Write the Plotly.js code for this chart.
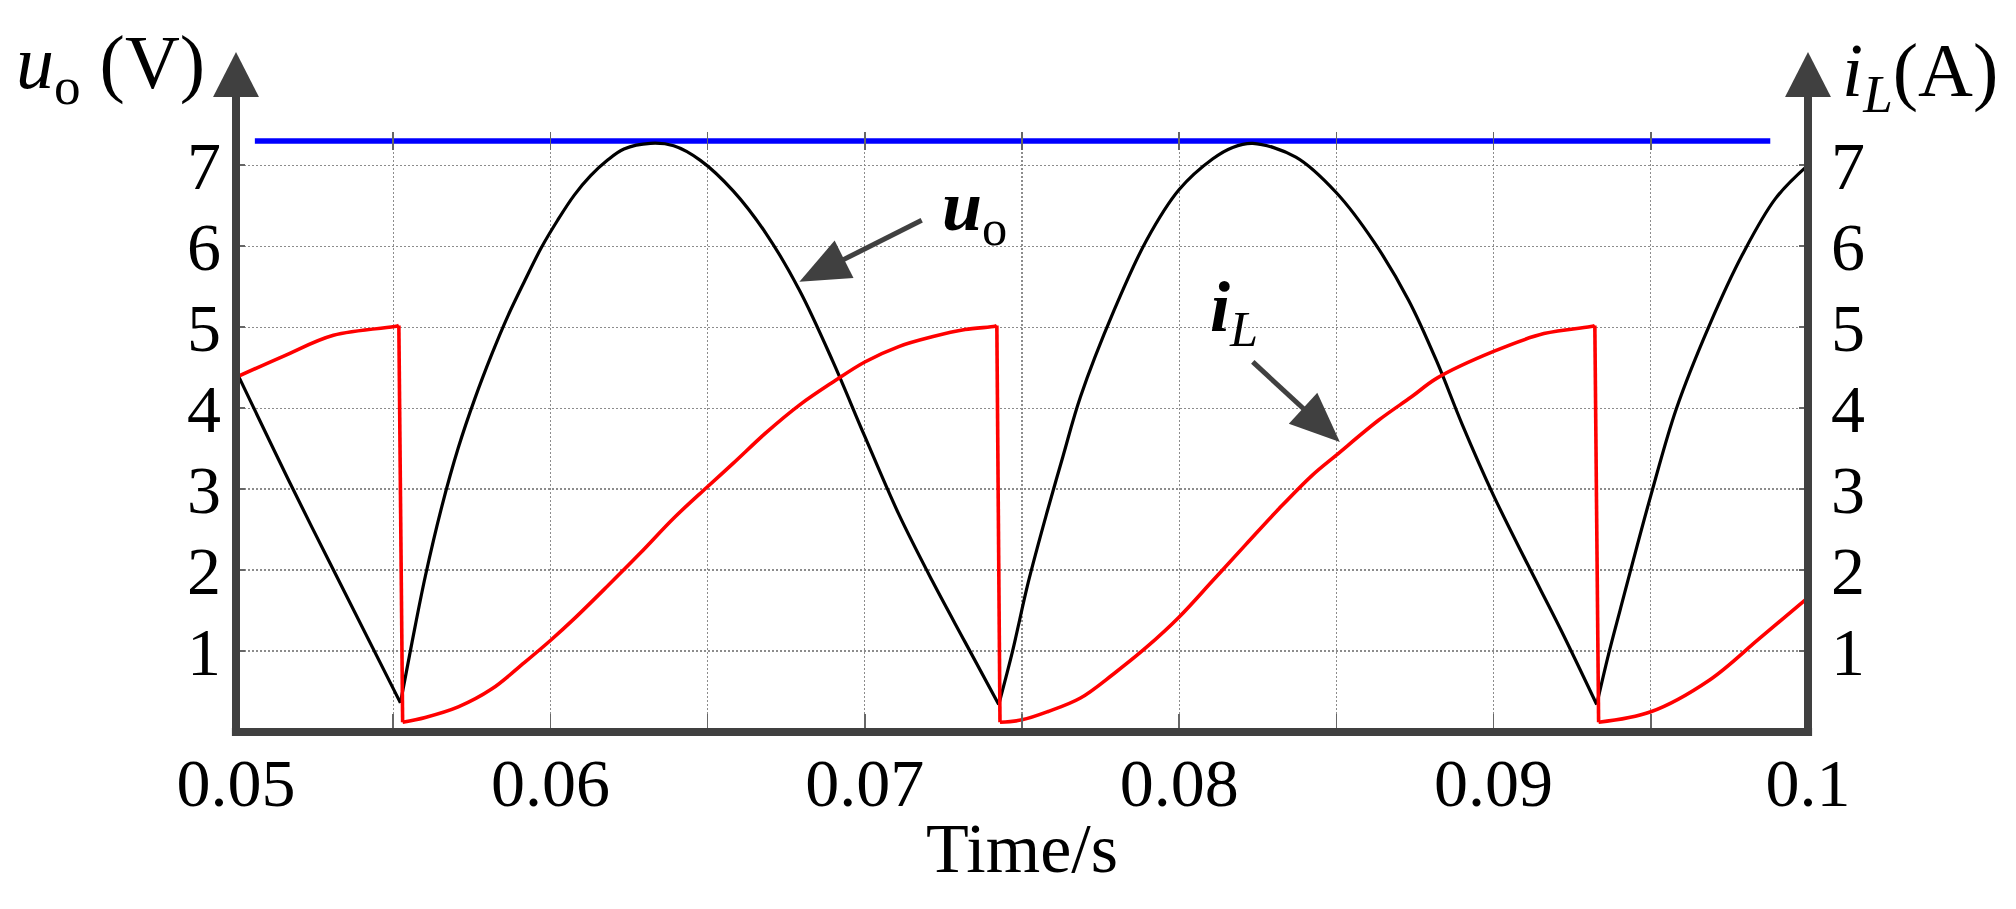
<!DOCTYPE html>
<html>
<head>
<meta charset="utf-8">
<script src="https://cdn.plot.ly/plotly-3.0.1.min.js"></script>
<style>
  html, body { margin: 0; padding: 0; background: #fff; }
  #plot { width: 2016px; height: 909px; }
</style>
</head>
<body>
<div id="plot"></div>
<script>
// values; null splits the curve at its cusps / jumps
var uoTime = [
  0.0500, 0.0518, 0.0531, 0.05523, null,
  0.05523, 0.0556, 0.05602, 0.05655, 0.05707, 0.0576, 0.05813, 0.05865, 0.05918, 0.05971,
  0.06023, 0.06076, 0.06128, 0.06181, 0.06234, 0.06318, 0.06392, 0.06477, 0.06582, 0.06687,
  0.06793, 0.06898, 0.0700, 0.07108, 0.07214, 0.07319, 0.07426, null,
  0.07426, 0.0747, 0.0752, 0.0758, 0.0763, 0.07686, 0.07792, 0.07897, 0.0800, 0.08107, 0.0817, 0.08234,
  0.08371, 0.0850, 0.0862, 0.0873, 0.0882, 0.0890, 0.0900, 0.09107, 0.09213, 0.09328, null,
  0.09328, 0.09365, 0.09402, 0.0950, 0.09581, 0.09686, 0.09792, 0.09897, 0.1000];
var uoVolt = [
  4.46, 3.01, 2.00, 0.36, null,
  0.36, 1.11, 1.92, 2.79, 3.51, 4.12, 4.66, 5.14, 5.57, 5.98,
  6.32, 6.63, 6.87, 7.06, 7.20, 7.27, 7.24, 7.06, 6.68, 6.15,
  5.45, 4.58, 3.65, 2.69, 1.87, 1.11, 0.34, null,
  0.34, 1.00, 1.85, 2.72, 3.40, 4.14, 5.20, 6.08, 6.70, 7.08, 7.22, 7.27,
  7.10, 6.66, 6.05, 5.33, 4.57, 3.80, 2.92, 2.08, 1.27, 0.34, null,
  0.34, 0.95, 1.50, 2.92, 3.99, 5.02, 5.90, 6.59, 7.00];

var iLTime = [
  0.0500, 0.0515, 0.0531, 0.0551, 0.05518, null,
  0.05518, 0.05530, null,
  0.05530, 0.05602, 0.05707, 0.05813, 0.05918, 0.0600, 0.06076, 0.06181, 0.06286, 0.06392,
  0.06497, 0.06582, 0.06687, 0.06793, 0.06898, 0.0700, 0.07108, 0.07214, 0.07319, 0.07414,
  0.07420, null,
  0.07420, 0.07430, null,
  0.07430, 0.0750, 0.07581, 0.07686, 0.07792, 0.07897, 0.0800, 0.08107, 0.08213, 0.08318,
  0.08423, 0.0850, 0.08634, 0.08739, 0.0882, 0.0900, 0.0916, 0.09315, 0.09322, null,
  0.09322, 0.09334, null,
  0.09334, 0.0950, 0.09686, 0.09844, 0.1000];
var iLAmp = [
  4.38, 4.64, 4.90, 5.01, 5.02, null,
  5.02, 0.12, null,
  0.12, 0.18, 0.31, 0.53, 0.86, 1.13, 1.40, 1.80, 2.21, 2.64,
  3.02, 3.32, 3.70, 4.04, 4.32, 4.57, 4.76, 4.88, 4.97, 5.01,
  5.02, null,
  5.02, 0.12, null,
  0.12, 0.15, 0.25, 0.42, 0.72, 1.05, 1.42, 1.87, 2.32, 2.76,
  3.17, 3.42, 3.85, 4.14, 4.37, 4.70, 4.92, 5.01, 5.02, null,
  5.02, 0.12, null,
  0.12, 0.25, 0.64, 1.15, 1.66];

var uomaxTime = [0.0506, 0.0988];
var uomaxVolt = [7.30, 7.30];

var xTickVals = [0.05, 0.06, 0.07, 0.08, 0.09, 0.1];
var xTickText = ['0.05', '0.06', '0.07', '0.08', '0.09', '0.1'];
var yTickVals = [1, 2, 3, 4, 5, 6, 7];
var yTickText = ['1', '2', '3', '4', '5', '6', '7'];

// pointer arrows: [time, value] of tail and tip
var uoArrow = { tail: [0.07181, 6.32], tip: [0.06792, 5.56] };
var iLArrow = { tail: [0.08234, 4.57], tip: [0.08511, 3.58] };

var SERIF = 'Liberation Serif, Times New Roman, serif';
var AXIS = '#404040';
var GRID = '#8c8c8c';
var X_RANGE = [0.05, 0.1];
var Y_RANGE = [0, 7.41];
var PLOT_W = 2016 - 236 - 208;
var PLOT_H = 909 - 132 - 177;

// arrow = shaft line + filled head, built in pixel space then mapped back to data units
function arrowShapes(a) {
  var sx = PLOT_W / (X_RANGE[1] - X_RANGE[0]);
  var sy = PLOT_H / (Y_RANGE[1] - Y_RANGE[0]);
  var dx = (a.tip[0] - a.tail[0]) * sx;
  var dy = (a.tip[1] - a.tail[1]) * sy;
  var len = Math.sqrt(dx * dx + dy * dy);
  var ux = dx / len, uy = dy / len;
  var headLen = 50, halfW = 21;
  var bx = a.tip[0] - ux * headLen / sx;
  var by = a.tip[1] - uy * headLen / sy;
  var c1x = bx - uy * halfW / sx, c1y = by + ux * halfW / sy;
  var c2x = bx + uy * halfW / sx, c2y = by - ux * halfW / sy;
  return [
    { type: 'line', xref: 'x', yref: 'y', x0: a.tail[0], y0: a.tail[1],
      x1: bx + ux * 4 / sx, y1: by + uy * 4 / sy,
      line: { color: AXIS, width: 5 }, layer: 'above' },
    { type: 'path', xref: 'x', yref: 'y',
      path: 'M ' + a.tip[0] + ' ' + a.tip[1] + ' L ' + c1x + ' ' + c1y + ' L ' + c2x + ' ' + c2y + ' Z',
      fillcolor: AXIS, line: { width: 0 }, layer: 'above' }
  ];
}

var traces = [
  { x: uomaxTime, y: uomaxVolt, mode: 'lines', name: 'uomax',
    line: { color: '#0000ff', width: 5.5 } },
  { x: uoTime, y: uoVolt, mode: 'lines', name: 'uo', connectgaps: false,
    line: { color: '#000000', width: 3.2, shape: 'spline', smoothing: 1 } },
  { x: iLTime, y: iLAmp, mode: 'lines', name: 'iL', yaxis: 'y2', connectgaps: false,
    line: { color: '#ff0000', width: 3.6, shape: 'spline', smoothing: 1 } }
];

var yAxisCommon = {
  range: Y_RANGE,
  tickvals: yTickVals,
  ticktext: yTickText,
  ticks: 'inside',
  ticklen: 9,
  tickwidth: 1.5,
  tickcolor: '#666',
  tickfont: { family: SERIF, size: 68, color: '#000' },
  showline: false,
  zeroline: false,
  fixedrange: true
};

var gridStyle = { gridcolor: GRID, gridwidth: 1.2, griddash: '2px,2px' };

var layout = {
  width: 2016,
  height: 909,
  margin: { l: 236, r: 208, t: 132, b: 177 },
  paper_bgcolor: '#fff',
  plot_bgcolor: '#fff',
  showlegend: false,
  xaxis: Object.assign({
    range: X_RANGE,
    tickvals: xTickVals,
    ticktext: xTickText,
    ticks: 'inside',
    ticklen: 18,
    tickwidth: 1.5,
    tickcolor: '#666',
    mirror: 'ticks',
    ticklabelstandoff: 5,
    tickfont: { family: SERIF, size: 68, color: '#000' },
    showgrid: true,
    showline: false,
    zeroline: false,
    minor: Object.assign({
      dtick: 0.005, tick0: 0.05, showgrid: true,
      ticks: 'inside', ticklen: 18, tickwidth: 1.5, tickcolor: '#666'
    }, gridStyle),
    title: { text: 'Time/s', font: { family: SERIF, size: 70, color: '#000' }, standoff: 2 }
  }, gridStyle),
  yaxis: Object.assign({}, yAxisCommon, gridStyle, {
    side: 'left',
    ticklabelstandoff: 14,
    showgrid: true
  }),
  yaxis2: Object.assign({}, yAxisCommon, {
    side: 'right',
    overlaying: 'y',
    ticklabelstandoff: 22,
    showgrid: false
  }),
  shapes: [
    { type: 'line', xref: 'paper', yref: 'paper', x0: -0.0026, x1: 1.0026, y0: 0, y1: 0,
      line: { color: AXIS, width: 8 }, layer: 'above' },
    { type: 'line', xref: 'paper', yref: 'paper', x0: 0, x1: 0, y0: -0.0067, y1: 1.062,
      line: { color: AXIS, width: 8 }, layer: 'above' },
    { type: 'line', xref: 'paper', yref: 'paper', x0: 1, x1: 1, y0: -0.0067, y1: 1.062,
      line: { color: AXIS, width: 8 }, layer: 'above' },
    { type: 'path', xref: 'paper', yref: 'paper',
      path: 'M -0.0146 1.0583 L 0.0146 1.0583 L 0 1.1333 Z',
      fillcolor: AXIS, line: { width: 0 }, layer: 'above' },
    { type: 'path', xref: 'paper', yref: 'paper',
      path: 'M 0.9854 1.0583 L 1.0146 1.0583 L 1 1.1333 Z',
      fillcolor: AXIS, line: { width: 0 }, layer: 'above' }
  ].concat(arrowShapes(uoArrow), arrowShapes(iLArrow)),
  annotations: [
    { xref: 'paper', yref: 'paper', x: -0.0185, y: 1.107, xanchor: 'right', yanchor: 'middle',
      text: '<i>u</i><sub>o</sub> (V)', showarrow: false,
      font: { family: SERIF, size: 76, color: '#000' } },
    { xref: 'paper', yref: 'paper', x: 1.0205, y: 1.093, xanchor: 'left', yanchor: 'middle',
      text: '<i>i</i><sub><i>L</i></sub>(A)', showarrow: false,
      font: { family: SERIF, size: 76, color: '#000' } },
    { xref: 'x', yref: 'y', x: 0.0699, y: 7.83, xanchor: 'center', yanchor: 'middle',
      text: '<b><i>u</i></b><sub>omax</sub>', showarrow: false,
      font: { family: SERIF, size: 70, color: '#000' } },
    { xref: 'x', yref: 'y', x: 0.0735, y: 6.44, xanchor: 'center', yanchor: 'middle',
      text: '<b><i>u</i></b><sub>o</sub>', showarrow: false,
      font: { family: SERIF, size: 72, color: '#000' } },
    { xref: 'x', yref: 'y', x: 0.08175, y: 5.19, xanchor: 'center', yanchor: 'middle',
      text: '<b><i>i</i></b><sub><i>L</i></sub>', showarrow: false,
      font: { family: SERIF, size: 72, color: '#000' } }
  ]
};

Plotly.newPlot('plot', traces, layout, { staticPlot: true, displayModeBar: false });
</script>
</body>
</html>
